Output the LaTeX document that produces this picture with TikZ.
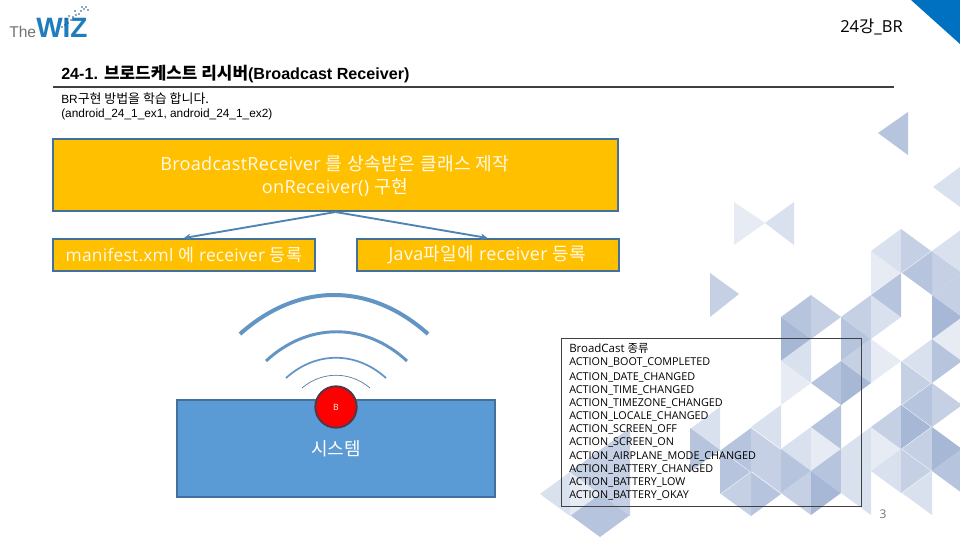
\documentclass[tikz,border=0pt]{standalone}
\usepackage{fontspec}
\setmainfont{Open Sans}
\newfontfamily\ko{Noto Sans CJK KR}
\newfontfamily\kw[LetterSpace=3]{Noto Sans CJK KR}
\newfontfamily\lw[LetterSpace=1.5]{Open Sans}
\newfontfamily\ar{Liberation Sans}
\newcommand\fp[1]{\fontsize{#1}{#1}\selectfont}
\definecolor{LA}{HTML}{E7EBF4}
\definecolor{LB}{HTML}{DAE1EE}
\definecolor{LC}{HTML}{C5D0E4}
\definecolor{LD}{HTML}{B6C4DE}
\definecolor{LE}{HTML}{A7B8D6}
\definecolor{boxedge}{HTML}{41719C}
\definecolor{sky}{HTML}{5B9BD5}
\definecolor{amber}{HTML}{FFC000}
\definecolor{corner}{HTML}{0070C0}
\definecolor{wizblue}{HTML}{1F7DBE}
\definecolor{stardot}{HTML}{285078}
\newcommand\T[4]{\fill[#4] (#1,#2) -- ++(0,44) -- ++(30*#3,-22) -- cycle;}
\usetikzlibrary{arrows.meta}
\tikzset{
  ybox/.style={draw=boxedge,fill=amber,line width=1.5pt,inner sep=0pt,text=white!92!amber,align=center},
  conn/.style={draw=sky!85!black,line width=1.4pt,-{Stealth[length=5pt,width=5pt]}},
  wave/.style={draw=sky!80!gray,line cap=butt},
  plain/.style={inner sep=0pt,anchor=west}
}
\begin{document}
\begin{tikzpicture}[x=0.75pt,y=-0.75pt]
\useasboundingbox (0,0) rectangle (960,540);
\fill[white] (0,0) rectangle (960,540);
% corner
\fill[corner] (911,0) -- (960,0) -- (960,44) -- cycle;
% isolated triangles
\fill[LD] (908,112) -- (908,155) -- (878,133) -- cycle;
\fill[LB] (960,167) -- (960,207) -- (933,187) -- cycle;
\fill[LA] (734,202) -- (734,245) -- (765,223) -- cycle;
\fill[LB] (794,202) -- (794,245) -- (765,223) -- cycle;
\fill[LC] (710,273) -- (710,317) -- (739,294) -- cycle;
% right lattice
\T{811}{295}{-1}{LD}\T{781}{317}{1}{LE}\T{811}{339}{-1}{LB}\T{781}{361}{1}{LA}
\T{781}{405}{-1}{LB}\T{811}{427}{-1}{LB}\T{811}{427}{1}{LA}\T{841}{405}{-1}{LD}
\T{811}{295}{1}{LC}\T{841}{361}{-1}{LD}\T{841}{361}{1}{LE}\T{841}{317}{1}{LD}
\T{871}{295}{-1}{LC}\T{871}{339}{-1}{LC}\T{871}{339}{1}{LA}\T{871}{295}{1}{LB}
\T{901}{273}{-1}{LD}\T{871}{251}{1}{LA}\T{901}{229}{-1}{LB}\T{901}{229}{1}{LC}
\T{781}{449}{1}{LD}\T{811}{471}{-1}{LC}\T{811}{471}{1}{LE}\T{841}{449}{-1}{LD}
\T{841}{449}{1}{LB}\T{871}{471}{-1}{LB}\T{871}{427}{-1}{LB}\T{871}{427}{1}{LA}
\T{901}{449}{-1}{LB}\T{901}{405}{-1}{LC}\T{901}{405}{1}{LE}\T{901}{361}{1}{LC}
\T{932}{383}{-1}{LD}\T{932}{383}{1}{LC}\T{901}{449}{1}{LC}\T{932}{427}{-1}{LC}
\T{932}{427}{1}{LE}\T{932}{471}{-1}{LB}\T{962}{449}{-1}{LD}
\T{932}{339}{-1}{LB}\T{932}{339}{1}{LD}\T{962}{317}{-1}{LA}\T{932}{295}{1}{LE}
\T{962}{273}{-1}{LC}\T{932}{251}{1}{LC}\T{932}{251}{-1}{LD}\T{962}{229}{-1}{LB}
% lower-middle lattice
\T{720}{407}{-1}{LB}\T{690}{428}{1}{LD}\T{720}{450}{1}{LD}\T{751}{428}{-1}{LD}
\T{751}{428}{1}{LC}\T{751}{472}{1}{LD}\T{781}{449}{-1}{LC}\T{751}{472}{-1}{LC}
% lower-left lattice
\T{570}{472}{-1}{LB}\T{600}{493}{-1}{LD}\T{600}{493}{1}{LD}\T{570}{472}{1}{LA}
\T{600}{450}{-1}{LC}\T{600}{450}{1}{LC}\T{630}{428}{-1}{LC}\T{630}{472}{-1}{LC}
% logo
\node[plain,anchor=base west,text=black!55] (logoa) at (9,37) {\ar\fp{11.7}The};
\node[plain,anchor=base west,text=wizblue] (logob) at (36,37) {\ar\bfseries\fp{21}WIZ};
\foreach \px/\py in {62/27,65/25,68/23,71/20,73/17,76/15,79/14,81/11,84/9,86/7,88/10,82/7,75/11,69/16,66/19}
  \fill[stardot] (\px,\py) circle[radius=0.8];
% header
\node[plain,anchor=east] (chap) at (903,27) {\fp{12.4}24{\ko 강}\_BR};
\node[plain,anchor=base west] (ttl) at (61,79) {\ar\bfseries\fp{12.1}24-1. {\ko\fp{12.7}브로드케스트 리시버}(Broadcast Receiver)};
\draw[draw=black!75,line width=1.5pt] (53,87) -- (894,87);
\node[plain] (suba) at (61,99) {\ar\fp{8.9}BR{\ko\fp{9.7}구현 방법을 학습 합니다.}};
\node[plain] (subb) at (61,114) {\ar\fp{8.9}(android\_24\_1\_ex1, android\_24\_1\_ex2)};
% top boxes
\node[ybox,minimum width=423.75pt,minimum height=54pt] (topb) at (335.5,175) {};
\node[plain,anchor=center,text=white!92!amber] (topa) at (335,164) {\fp{13.6}\lw BroadcastReceiver {\kw 를 상속받은 클래스 제작}};
\node[plain,anchor=center,text=white!92!amber] (topc) at (335,187) {\fp{13.6}\lw onReceiver() {\kw 구현}};
\node[ybox,minimum width=196.5pt,minimum height=24pt] (lbox) at (184,255) {\fp{13}\lw manifest.xml {\kw 에} receiver {\kw 등록}};
\node[ybox,minimum width=196.5pt,minimum height=24pt] (rbox) at (487.5,255) {\fp{13.5}\lw Java{\kw 파일에} receiver {\kw 등록}};
\draw[conn] (topb.south) -- (lbox.north);
\draw[conn] (topb.south) -- (rbox.north);
% system
\node[draw=boxedge,fill=sky,line width=1.5pt,minimum width=238.5pt,minimum height=72.75pt,inner sep=0pt] (sys) at (336,448.5) {};
\node[plain,anchor=center,text=white] (syst) at (336,449) {\ko\fp{13.5}시스템};
\node[circle,draw=boxedge!70!red!70!black,fill=red,line width=1.5pt,minimum size=31pt,inner sep=0pt,text=white!85!yellow] (bc) at (336,407) {\fp{6.5}B};
\draw[wave,line width=3pt] (240,334) .. controls (298,282) and (370,282) .. (428,334);
\draw[wave,line width=2.2pt] (266,361) .. controls (308,322) and (365,322) .. (407,361);
\draw[wave,line width=1.3pt] (286,378) .. controls (316,351) and (356,351) .. (386,378);
\draw[wave,draw=boxedge!80!gray,line width=0.5pt] (302,388) .. controls (322,371) and (350,371) .. (370,388);
% list
\node[draw=black!75,line width=0.75pt,minimum width=225pt,minimum height=126pt,inner sep=0pt] (lst) at (711.5,422) {};
\node[plain] (l0) at (569,348) {\fp{8.6}BroadCast {\ko 종류}};
\foreach \yy/\tx in {362.5/BOOT\_COMPLETED,377/DATE\_CHANGED,390/TIME\_CHANGED,403/TIMEZONE\_CHANGED,416/LOCALE\_CHANGED,429/SCREEN\_OFF,442.5/SCREEN\_ON,456/AIRPLANE\_MODE\_CHANGED,469/BATTERY\_CHANGED,482/BATTERY\_LOW,495/BATTERY\_OKAY}
  \node[plain] at (569,\yy) {\fp{8.1}ACTION\_\tx};
\node[plain,anchor=center,text=black!55] (pg) at (883,514) {\fp{9}3};
\end{tikzpicture}
\end{document}
